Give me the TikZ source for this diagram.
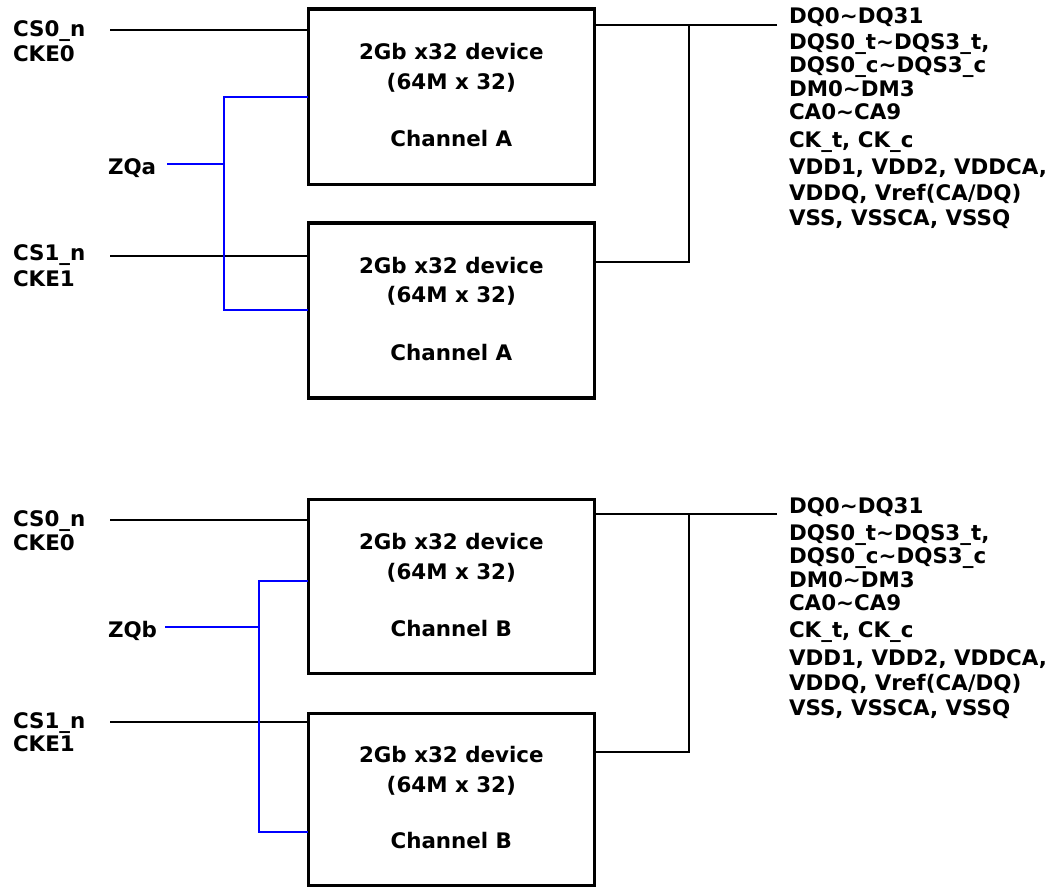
\documentclass[tikz,border=0pt]{standalone}
\usepackage{fontspec}
\setmainfont{DejaVu Sans}
\begin{document}
\begin{tikzpicture}[x=1pt,y=-1pt,
  every node/.style={inner sep=0pt, outer sep=0pt, font=\fontsize{21.4}{25}\selectfont\bfseries},
  devbox/.style={draw, line width=3.4pt, minimum width=286pt},
  lbl/.style={anchor=base west},
  ctr/.style={anchor=base},
  wire/.style={line width=2.2pt, black},
  zqwire/.style={line width=2pt, blue}]
\useasboundingbox[fill=white] (0,0) rectangle (1057,888);

% ---------- Channel A ----------
\node[devbox, minimum height=175.7pt] (b1) at (451.3,96.85) {};
\node[devbox, minimum height=175pt]   (b2) at (451.3,310.5) {};
\node[ctr] (b1l1) at (451.3,60)    {2Gb x32 device};
\node[ctr] (b1l2) at (451.3,89.3)  {(64M x 32)};
\node[ctr] (b1l3) at (451.3,146.7) {Channel A};
\node[ctr] (b2l1) at (451.3,273.3) {2Gb x32 device};
\node[ctr] (b2l2) at (451.3,302.7) {(64M x 32)};
\node[ctr] (b2l3) at (451.3,360)   {Channel A};

\node[lbl] (csa0)  at (13,37)    {CS0\_n};
\node[lbl] (ckea0) at (13,61.7)  {CKE0};
\node[lbl] (zqa)   at (108,175)  {ZQa};
\node[lbl] (csa1)  at (13,260.7) {CS1\_n};
\node[lbl] (ckea1) at (13,286)   {CKE1};

\coordinate (csa0w) at (110,30);
\coordinate (csa1w) at (110,256);
\coordinate (zqaw)  at (167,164);
\coordinate (zqaj)  at (224,164);
\coordinate (outa)  at (777,25);
\coordinate (busa)  at (689,25);

\draw[wire] (csa0w) -- (csa0w -| b1.west);
\draw[wire] (csa1w) -- (csa1w -| b2.west);
\draw[zqwire] (zqaw) -- (zqaj);
\draw[zqwire] (b1.west |- 0,97) -| (224,310) -- (b2.west |- 0,310);
\draw[wire] (outa) -- (outa -| b1.east);
\draw[wire] (busa) |- (b2.east |- 0,262);

\node[lbl] (ra1) at (789,23.3) {DQ0\textasciitilde DQ31};
\node[lbl] (ra2) at (789,50)   {DQS0\_t\textasciitilde DQS3\_t,};
\node[lbl] (ra3) at (789,73)   {DQS0\_c\textasciitilde DQS3\_c};
\node[lbl] (ra4) at (789,97)   {DM0\textasciitilde DM3};
\node[lbl] (ra5) at (789,120)  {CA0\textasciitilde CA9};
\node[lbl] (ra6) at (789,147)  {CK\_t, CK\_c};
\node[lbl] (ra7) at (789,175)  {VDD1, VDD2, VDDCA,};
\node[lbl] (ra8) at (789,200)  {VDDQ, Vref(CA/DQ)};
\node[lbl] (ra9) at (789,225)  {VSS, VSSCA, VSSQ};

% ---------- Channel B ----------
\node[devbox, minimum height=174.2pt] (b3) at (451.3,586.6) {};
\node[devbox, minimum height=171.6pt] (b4) at (451.3,799.5) {};
\node[ctr] (b3l1) at (451.3,549.3) {2Gb x32 device};
\node[ctr] (b3l2) at (451.3,579)   {(64M x 32)};
\node[ctr] (b3l3) at (451.3,636.7) {Channel B};
\node[ctr] (b4l1) at (451.3,762.7) {2Gb x32 device};
\node[ctr] (b4l2) at (451.3,792.3) {(64M x 32)};
\node[ctr] (b4l3) at (451.3,848.3) {Channel B};

\node[lbl] (csb0)  at (13,526.7) {CS0\_n};
\node[lbl] (ckeb0) at (13,550.7) {CKE0};
\node[lbl] (zqb)   at (108,637.3){ZQb};
\node[lbl] (csb1)  at (13,728.3) {CS1\_n};
\node[lbl] (ckeb1) at (13,751.7) {CKE1};

\coordinate (csb0w) at (110,520);
\coordinate (csb1w) at (110,722);
\coordinate (zqbw)  at (165,627);
\coordinate (zqbj)  at (258.7,627);
\coordinate (outb)  at (777,514.3);
\coordinate (busb)  at (689,514.3);

\draw[wire] (csb0w) -- (csb0w -| b3.west);
\draw[wire] (csb1w) -- (csb1w -| b4.west);
\draw[zqwire] (zqbw) -- (zqbj);
\draw[zqwire] (b3.west |- 0,580.7) -| (258.7,832.3) -- (b4.west |- 0,832.3);
\draw[wire] (outb) -- (outb -| b3.east);
\draw[wire] (busb) |- (b4.east |- 0,751.7);

\node[lbl] (rb1) at (789,513.3) {DQ0\textasciitilde DQ31};
\node[lbl] (rb2) at (789,540)   {DQS0\_t\textasciitilde DQS3\_t,};
\node[lbl] (rb3) at (789,563)   {DQS0\_c\textasciitilde DQS3\_c};
\node[lbl] (rb4) at (789,587)   {DM0\textasciitilde DM3};
\node[lbl] (rb5) at (789,610)   {CA0\textasciitilde CA9};
\node[lbl] (rb6) at (789,637)   {CK\_t, CK\_c};
\node[lbl] (rb7) at (789,665)   {VDD1, VDD2, VDDCA,};
\node[lbl] (rb8) at (789,690)   {VDDQ, Vref(CA/DQ)};
\node[lbl] (rb9) at (789,715)   {VSS, VSSCA, VSSQ};
\end{tikzpicture}
\end{document}
